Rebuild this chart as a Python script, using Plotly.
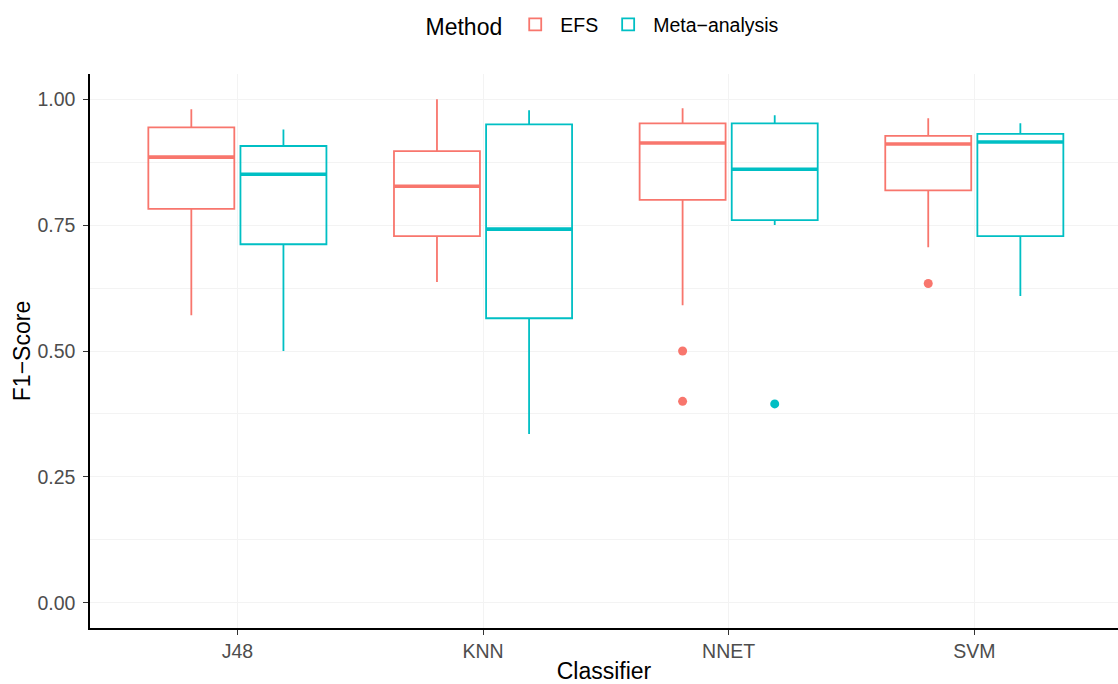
import plotly.graph_objects as go

classifiers = ["J48", "KNN", "NNET", "SVM"]
methods = ["EFS", "Meta−analysis"]
colors = {"EFS": "#F8766D", "Meta−analysis": "#00BFC4"}

# five-number summaries per method, ordered as classifiers
lower = {"EFS": [0.571, 0.637, 0.591, 0.706], "Meta−analysis": [0.500, 0.335, 0.750, 0.609]}
q1 = {"EFS": [0.782, 0.728, 0.800, 0.819], "Meta−analysis": [0.712, 0.565, 0.760, 0.728]}
median = {"EFS": [0.885, 0.827, 0.913, 0.911], "Meta−analysis": [0.851, 0.742, 0.861, 0.915]}
q3 = {"EFS": [0.944, 0.897, 0.952, 0.927], "Meta−analysis": [0.907, 0.950, 0.952, 0.931]}
upper = {"EFS": [0.980, 1.000, 0.982, 0.962], "Meta−analysis": [0.940, 0.978, 0.968, 0.952]}

# outliers: (classifier, value)
outliers = {
    "EFS": [("NNET", 0.500), ("NNET", 0.400), ("SVM", 0.634)],
    "Meta−analysis": [("NNET", 0.395)],
}

dodge = 0.1875
box_w = 0.35
offsets = {"EFS": -dodge, "Meta−analysis": dodge}

fig = go.Figure()
for m in methods:
    xs = [i + 1 + offsets[m] for i in range(len(classifiers))]
    fig.add_trace(go.Box(
        x=xs, q1=q1[m], median=median[m], q3=q3[m],
        lowerfence=lower[m], upperfence=upper[m],
        width=box_w, name=m, boxpoints=False, whiskerwidth=0,
        line=dict(color=colors[m], width=1.8), fillcolor="rgba(255,255,255,0)",
        hoverinfo="skip",
    ))
for m in methods:
    # thicker median segments
    mx, my = [], []
    for i in range(len(classifiers)):
        c = i + 1 + offsets[m]
        mx += [c - box_w / 2, c + box_w / 2, None]
        my += [median[m][i], median[m][i], None]
    fig.add_trace(go.Scatter(x=mx, y=my, mode="lines", showlegend=False,
                             line=dict(color=colors[m], width=3.6), hoverinfo="skip"))
    ox = [classifiers.index(c) + 1 + offsets[m] for c, v in outliers[m]]
    oy = [v for c, v in outliers[m]]
    fig.add_trace(go.Scatter(x=ox, y=oy, mode="markers", showlegend=False,
                             marker=dict(color=colors[m], size=9), hoverinfo="skip"))

grid = "#F3F3F3"
fig.update_layout(
    width=1118, height=684,
    margin=dict(l=90, r=0, t=74, b=56),
    paper_bgcolor="white", plot_bgcolor="white",
    boxmode="overlay",
    font=dict(family="Liberation Sans, Arial, sans-serif", color="black"),
    showlegend=True,
    legend=dict(
        orientation="h", x=0.5, xanchor="center", y=1.088, yanchor="middle",
        title=dict(text="Method", font=dict(size=23)),
        font=dict(size=19.5), itemwidth=40,
    ),
    xaxis=dict(
        range=[0.4, 4.585], tickvals=[1, 2, 3, 4], ticktext=classifiers,
        showline=True, linecolor="black", linewidth=1.5, mirror=False,
        ticks="outside", ticklen=5, tickcolor="#333333", tickwidth=1.2,
        tickfont=dict(size=19.5, color="#4D4D4D"),
        showgrid=True, gridcolor=grid, gridwidth=1, zeroline=False,
        title=dict(text="Classifier", font=dict(size=23), standoff=2),
    ),
    yaxis=dict(
        range=[-0.05, 1.05], tickvals=[0, 0.25, 0.5, 0.75, 1.0],
        ticktext=["0.00", "0.25", "0.50", "0.75", "1.00"],
        showline=True, linecolor="black", linewidth=1.5,
        ticks="outside", ticklen=5, tickcolor="#333333", tickwidth=1.2,
        tickfont=dict(size=19.5, color="#4D4D4D"), ticklabelstandoff=4,
        showgrid=True, gridcolor=grid, gridwidth=1, zeroline=False,
        minor=dict(tickvals=[0.125, 0.375, 0.625, 0.875], showgrid=True,
                   gridcolor=grid, gridwidth=1, ticks=""),
        title=dict(text="F1−Score", font=dict(size=23), standoff=0),
    ),
)

fig.write_html("out.html")
